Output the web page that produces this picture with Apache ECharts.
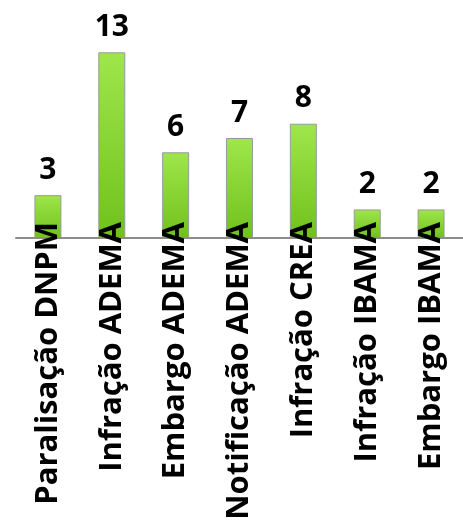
<!DOCTYPE html>
<html><head><meta charset="utf-8">
<script src="https://cdn.jsdelivr.net/npm/echarts@6/dist/echarts.min.js"></script>
<style>html,body{margin:0;padding:0;background:#fff}#c{width:463px;height:528px}</style>
</head><body><div id="c"></div>
<script>
const categories = ["Paralisação DNPM","Infração ADEMA","Embargo ADEMA","Notificação ADEMA","Infração CREA","Infração IBAMA","Embargo IBAMA"];
const values = [3,13,6,7,8,2,2];
const chart = echarts.init(document.getElementById('c'));
chart.setOption({
  animation:false,
  grid:{left:16,top:52.3,width:452,height:185.7,containLabel:false},
  xAxis:{type:'category',data:categories,z:5,
    axisLine:{lineStyle:{color:'#8c8c8c',width:2}},
    axisTick:{show:false},
    axisLabel:{rotate:90,margin:-16,interval:0,color:'#000',fontFamily:'Open Sans',fontWeight:'bold',fontSize:31}
  },
  yAxis:{type:'value',min:0,max:13,show:false,splitLine:{show:false}},
  series:[{type:'bar',data:values,barWidth:27,z:1,
    itemStyle:{borderColor:'#9a9a9a',borderWidth:1,
      color:new echarts.graphic.LinearGradient(0,0,0,1,[{offset:0,color:'#9fe64b'},{offset:1,color:'#70c11c'}])},
    label:{show:true,position:'top',distance:10,color:'#000',fontFamily:'Open Sans',fontWeight:'bold',fontSize:30}
  }]
});
</script></body></html>
